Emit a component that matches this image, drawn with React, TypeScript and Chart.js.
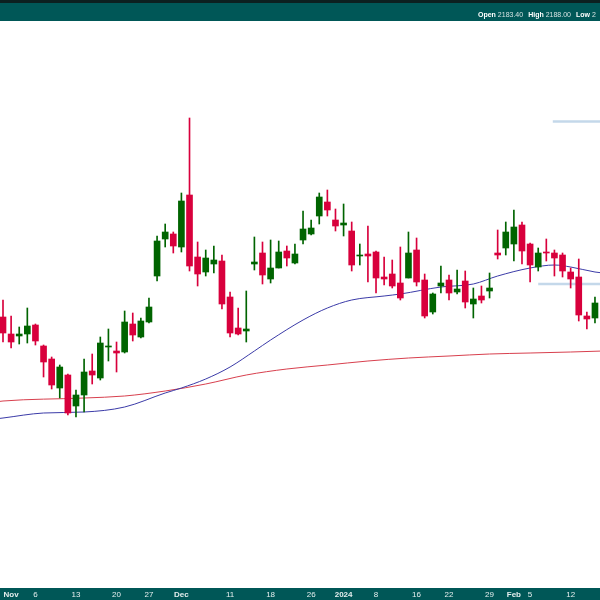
import React, { useEffect, useRef } from "react";
import { Chart, registerables } from "chart.js";

Chart.register(...registerables);

// Trading days shown (Oct 31 2023 - Feb 15 2024)
const dates = [
  "2023-10-31", "2023-11-01", "2023-11-02", "2023-11-03", "2023-11-06", "2023-11-07", "2023-11-08", "2023-11-09", "2023-11-10",
  "2023-11-13", "2023-11-14", "2023-11-15", "2023-11-16", "2023-11-17", "2023-11-20", "2023-11-21", "2023-11-22", "2023-11-24",
  "2023-11-27", "2023-11-28", "2023-11-29", "2023-11-30", "2023-12-01", "2023-12-04", "2023-12-05", "2023-12-06", "2023-12-07",
  "2023-12-08", "2023-12-11", "2023-12-12", "2023-12-13", "2023-12-14", "2023-12-15", "2023-12-18", "2023-12-19", "2023-12-20",
  "2023-12-21", "2023-12-22", "2023-12-26", "2023-12-27", "2023-12-28", "2023-12-29", "2024-01-02", "2024-01-03", "2024-01-04",
  "2024-01-05", "2024-01-08", "2024-01-09", "2024-01-10", "2024-01-11", "2024-01-12", "2024-01-16", "2024-01-17", "2024-01-18",
  "2024-01-19", "2024-01-22", "2024-01-23", "2024-01-24", "2024-01-25", "2024-01-26", "2024-01-29", "2024-01-30", "2024-01-31",
  "2024-02-01", "2024-02-02", "2024-02-05", "2024-02-06", "2024-02-07", "2024-02-08", "2024-02-09", "2024-02-12", "2024-02-13",
  "2024-02-14", "2024-02-15",
];

const opens = [
  1933, 1916, 1914, 1916, 1925, 1904, 1891, 1862, 1875, 1844,
  1855, 1879, 1872, 1903, 1899, 1898, 1926, 1913, 1928, 1974,
  2011, 2016, 2003, 2055, 1993, 1978, 1986, 1989, 1953, 1922,
  1919, 1986, 1997, 1971, 1982, 1999, 1987, 2010, 2016, 2034,
  2048, 2030, 2025, 2019, 1994, 1996, 1998, 1973, 1976, 1967,
  1972, 2000, 1970, 1938, 1964, 1970, 1958, 1969, 1946, 1954,
  1959, 1997, 2002, 2006, 2025, 2006, 1983, 1998, 1997, 1995,
  1978, 1973, 1934, 1932,
];
const highs = [
  1950, 1934, 1923, 1942, 1926, 1905, 1893, 1885, 1876, 1860,
  1891, 1896, 1913, 1921, 1908, 1939, 1937, 1932, 1952, 2014,
  2026, 2018, 2057, 2132, 2008, 2000, 2004, 1995, 1958, 1942,
  1959, 2013, 2008, 2010, 2009, 2004, 2006, 2039, 2030, 2057,
  2060, 2041, 2046, 2028, 2006, 2024, 1999, 1993, 1990, 2003,
  2018, 2012, 1976, 1957, 1984, 1975, 1980, 1979, 1962, 1964,
  1977, 2020, 2028, 2040, 2028, 2007, 2002, 2011, 2000, 1997,
  1982, 1991, 1938, 1953,
];
const lows = [
  1908, 1902, 1906, 1907, 1905, 1873, 1861, 1852, 1835, 1833,
  1838, 1866, 1870, 1889, 1878, 1897, 1909, 1912, 1927, 1969,
  2003, 1997, 1998, 1979, 1964, 1974, 1977, 1941, 1913, 1915,
  1908, 1980, 1966, 1967, 1982, 1984, 1986, 2006, 2015, 2026,
  2034, 2019, 2014, 1979, 1985, 1968, 1957, 1965, 1962, 1950,
  1972, 1964, 1932, 1936, 1957, 1950, 1956, 1942, 1932, 1947,
  1952, 1991, 1995, 1989, 1986, 1968, 1979, 1989, 1974, 1973,
  1962, 1929, 1921, 1927,
];
const closes = [
  1917, 1908, 1916, 1924, 1909, 1888, 1865, 1883, 1837, 1855,
  1878, 1875, 1907, 1904, 1897, 1928, 1915, 1929, 1943, 2009,
  2018, 2004, 2049, 1984, 1976, 1992, 1990, 1946, 1917, 1916,
  1921, 1988, 1975, 1982, 1998, 1992, 1996, 2021, 2022, 2053,
  2040, 2024, 2027, 1985, 1995, 1994, 1972, 1971, 1964, 1952,
  1997, 1968, 1934, 1956, 1967, 1957, 1961, 1948, 1951, 1950,
  1962, 1995, 2018, 2023, 1999, 1985, 1997, 1997, 1992, 1979,
  1971, 1935, 1931, 1947,
];

// Moving averages (bar index -> value)
const ma50Idx = [-1, 0, 5, 10, 15, 20, 22, 25, 28, 31, 33, 37, 40, 43, 47, 49, 54, 58, 61, 65, 68, 70, 73, 74];
const ma50Val = [1831, 1832, 1837, 1838, 1843, 1857, 1862, 1871, 1883, 1899, 1910, 1930, 1942, 1950, 1954, 1956, 1963, 1966, 1974, 1982, 1985, 1983, 1978, 1977];
const ma200Idx = [-1, 0, 10, 15, 20, 25, 30, 35, 40, 45, 50, 55, 60, 65, 70, 74];
const ma200Val = [1848, 1849, 1852, 1854, 1859, 1866, 1875, 1881, 1885, 1889, 1892, 1894, 1896, 1897, 1898, 1899];

// Horizontal price levels (start bar, price)
const levelStart = [67.8, 66.0];
const levelPrice = [2128.5, 1966];

// X-axis tick labels
const tickIdx = [1, 4, 9, 14, 18, 22, 28, 33, 38, 42, 46, 51, 55, 60, 63, 65, 70];
const tickLabels = ["Nov", "6", "13", "20", "27", "Dec", "11", "18", "26", "2024", "8", "16", "22", "29", "Feb", "5", "12"];
const boldLabels = ["Nov", "Dec", "2024", "Feb"];

// Header readout
const headerLabels = ["Open", "High", "Low"];
const headerValues = ["2183.40", "2188.00", "2"];

const GREEN = "#006400";
const RED = "#d8003c";
const TEAL = "#005757";

export default function App() {
  const ref = useRef<HTMLCanvasElement>(null);

  useEffect(() => {
    const canvas = ref.current;
    if (!canvas) return;
    const colors = closes.map((c, i) => (c >= opens[i] ? GREEN : RED));

    const bands = {
      id: "bands",
      beforeDraw(chart: any) {
        const c = chart.ctx;
        const { width, height, chartArea } = chart;
        c.save();
        c.fillStyle = "#ffffff";
        c.fillRect(0, 0, width, height);
        c.fillStyle = TEAL;
        c.fillRect(0, 0, width, chartArea.top);
        c.fillStyle = "#0c2020";
        c.fillRect(0, 0, width, 3);
        c.fillStyle = TEAL;
        c.fillRect(0, chartArea.bottom, width, height - chartArea.bottom);
        c.restore();
      },
    };

    const chart = new Chart(canvas, {
      type: "bar",
      data: {
        datasets: [
          {
            type: "bar",
            data: dates.map((_, i) => ({ x: i, y: [opens[i], closes[i]] })),
            backgroundColor: colors,
            barThickness: 6,
            minBarLength: 1,
            grouped: false,
            borderWidth: 0,
            order: 0,
          } as any,
          {
            type: "bar",
            data: dates.map((_, i) => ({ x: i, y: [lows[i], highs[i]] })),
            backgroundColor: colors,
            barThickness: 1,
            grouped: false,
            borderWidth: 0,
            order: 1,
          } as any,
          {
            type: "line",
            data: ma50Idx.map((x, i) => ({ x, y: ma50Val[i] })),
            borderColor: "#3b3ba8",
            borderWidth: 1,
            pointRadius: 0,
            cubicInterpolationMode: "monotone",
            order: 2,
          } as any,
          {
            type: "line",
            data: ma200Idx.map((x, i) => ({ x, y: ma200Val[i] })),
            borderColor: "#d8404e",
            borderWidth: 1,
            pointRadius: 0,
            cubicInterpolationMode: "monotone",
            order: 3,
          } as any,
          ...levelPrice.map((p, k) => ({
            type: "line",
            data: [
              { x: levelStart[k], y: p },
              { x: 75, y: p },
            ],
            borderColor: "#c4d8ea",
            borderWidth: 2.5,
            pointRadius: 0,
            order: 4,
          })) as any,
        ],
      },
      options: {
        responsive: false,
        animation: false,
        devicePixelRatio: 1,
        layout: { padding: { top: 21, left: 0, right: 0, bottom: 0 } },
        plugins: { legend: { display: false }, tooltip: { enabled: false } },
        scales: {
          x: {
            type: "linear",
            offset: false,
            min: -0.37,
            max: 73.62,
            grid: { display: false, drawTicks: false, offset: false },
            border: { display: false },
            afterBuildTicks: (s: any) => {
              s.ticks = tickIdx.map((v) => ({ value: v }));
            },
            afterFit: (s: any) => {
              s.height = 12;
            },
            ticks: {
              autoSkip: false,
              maxRotation: 0,
              padding: 2,
              color: "#e4eeee",
              font: (c: any) => ({
                family: "'Liberation Sans', Arial, sans-serif",
                size: 8,
                weight: boldLabels.includes(tickLabels[c.index]) ? "bold" : "normal",
              }),
              callback: (v: any) => {
                const k = tickIdx.indexOf(Number(v));
                return k >= 0 ? tickLabels[k] : "";
              },
            },
          },
          y: { display: false, min: 1662, max: 2229 },
        },
      } as any,
      plugins: [bands],
    });
    return () => chart.destroy();
  }, []);

  return (
    <div
      style={{
        position: "fixed",
        left: 0,
        top: 0,
        width: 600,
        height: 600,
        overflow: "hidden",
        background: "#fff",
      }}
    >
      <canvas ref={ref} width={600} height={600} style={{ position: "absolute", left: 0, top: 0 }} />
      <div
        style={{
          position: "absolute",
          left: 478,
          top: 10,
          height: 10,
          lineHeight: "10px",
          whiteSpace: "nowrap",
          fontFamily: "'Liberation Sans', Arial, sans-serif",
          fontSize: 7,
          color: "#ffffff",
        }}
      >
        {headerLabels.map((l, i) => (
          <span key={l} style={{ marginRight: 5 }}>
            <b>{l}</b> <span style={{ color: "#d4e2e2" }}>{headerValues[i]}</span>
          </span>
        ))}
      </div>
    </div>
  );
}
